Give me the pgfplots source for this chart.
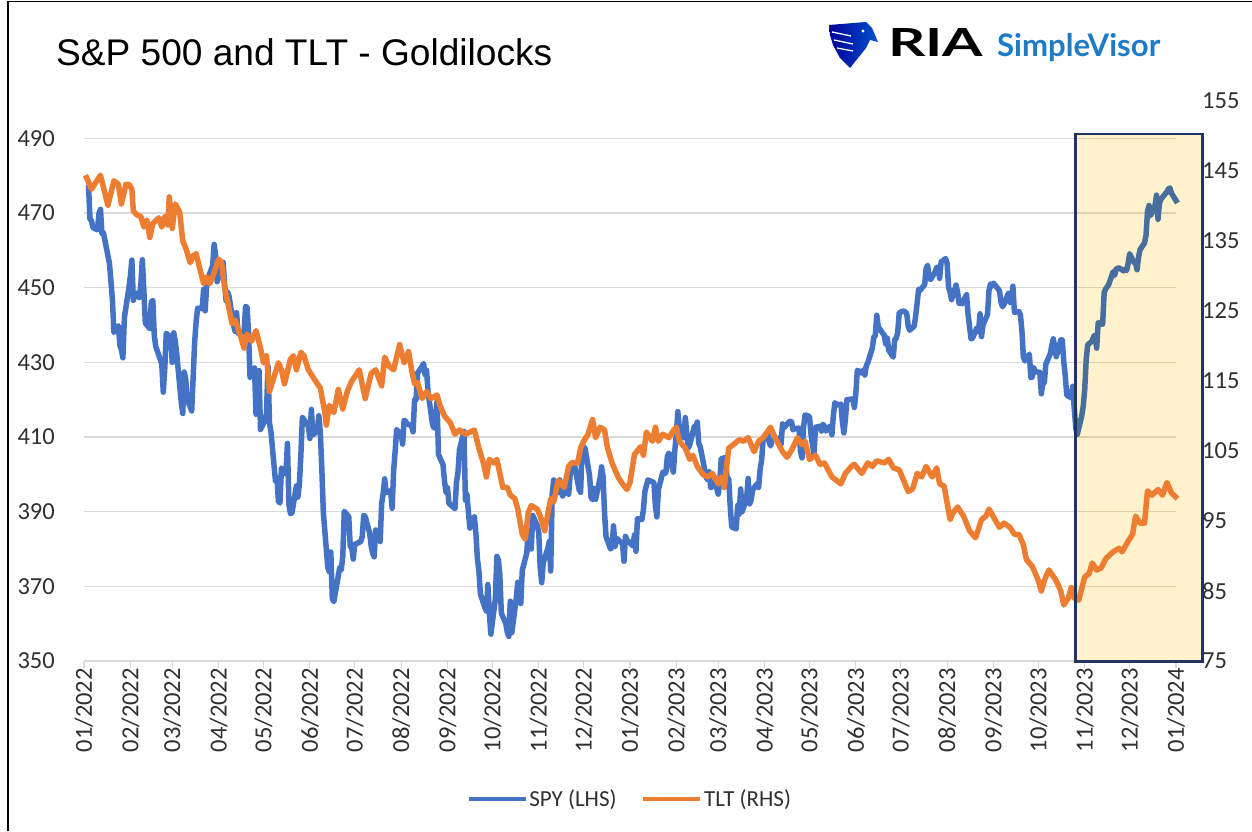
\documentclass[border=0pt]{standalone}
\usepackage{pgfplots}
\pgfplotsset{compat=1.18}
\usepackage{pgfplotstable}
\usepackage{graphicx}
\usepackage{fontspec}
\setmainfont{Liberation Sans}
\newfontfamily\carlito{Carlito}
\newfontfamily\lato{Lato}

\definecolor{spyblue}{HTML}{4472C4}
\definecolor{spyslate}{HTML}{486E9E}
\definecolor{tltorange}{HTML}{ED7D31}
\definecolor{gridgray}{HTML}{D9D9D9}
\definecolor{gridtan}{HTML}{DDD0B0}
\definecolor{boxfill}{HTML}{FFF2CC}
\definecolor{boxedge}{HTML}{1F3461}
\definecolor{ticktext}{HTML}{303030}
\definecolor{logoblue}{HTML}{1E7BC6}

% SPY daily close, x = days since 1 Jan 2022
\pgfplotstableread{
d v
2 477.7
3 477.5
4 468.4
5 467.9
6 466.1
9 465.5
10 469.8
11 471.0
12 464.5
13 464.7
17 456.5
18 451.8
19 446.8
20 438.0
23 439.8
24 434.5
25 433.4
26 431.2
27 442.0
30 449.9
31 453.0
32 457.4
33 446.6
34 448.7
37 447.3
38 450.9
39 457.5
40 449.3
41 440.5
44 439.0
45 446.1
46 446.6
47 437.1
48 434.2
52 429.6
53 422.0
54 428.3
55 437.8
58 436.6
59 430.0
60 437.9
61 435.7
62 432.2
65 419.4
66 416.3
67 427.4
68 425.5
69 420.1
72 417.0
73 426.2
74 435.6
75 441.1
76 444.5
79 444.4
80 449.6
81 443.8
82 450.5
83 452.7
86 455.9
87 461.6
88 458.7
89 451.6
90 452.9
93 456.8
94 451.0
95 446.5
96 448.8
97 447.6
100 439.9
101 438.3
102 443.3
103 437.8
107 438.0
108 445.0
109 444.7
110 438.1
111 426.0
114 428.5
115 416.1
116 417.3
117 427.8
118 412.0
121 414.5
122 416.4
123 429.1
124 413.8
125 411.3
128 398.2
129 399.1
130 392.8
131 392.3
132 401.7
135 400.1
136 408.3
137 391.9
138 389.5
139 389.6
142 396.9
143 393.9
144 397.4
145 405.3
146 415.3
150 412.9
151 409.6
152 417.4
153 410.5
156 411.8
157 415.7
158 411.2
159 401.4
160 389.8
163 375.0
164 373.9
165 379.2
166 366.7
167 365.9
171 375.1
172 374.4
173 378.1
174 390.1
177 388.6
178 380.7
179 380.3
180 377.3
181 381.2
185 382.0
186 383.3
187 389.0
188 388.7
191 384.2
192 380.8
193 378.8
194 377.9
195 385.1
198 382.0
199 392.3
200 394.8
201 398.8
202 395.1
205 395.6
206 390.9
207 401.0
208 406.1
209 412.0
212 410.8
213 408.1
214 414.5
215 414.2
216 413.5
219 413.0
220 411.4
221 420.0
222 420.0
223 427.1
226 428.9
227 429.7
228 426.7
229 427.9
230 422.1
233 413.4
234 412.4
235 413.7
236 419.5
237 405.3
240 402.6
241 398.2
242 395.2
243 396.4
244 392.2
248 390.8
249 397.8
250 400.4
251 406.6
254 411.5
255 393.1
256 394.6
257 389.9
258 385.6
261 388.6
262 384.1
263 377.4
264 374.2
265 368.0
268 364.3
269 363.4
270 370.5
271 362.8
272 357.2
275 366.6
276 378.0
277 377.1
278 373.2
279 362.8
282 360.0
283 357.7
284 356.6
285 366.0
286 357.6
289 366.8
290 371.1
291 368.5
292 365.4
293 374.3
296 378.9
297 384.9
298 382.0
299 380.0
300 389.0
303 386.2
304 384.5
305 374.9
306 371.0
307 376.4
310 380.0
311 382.0
312 374.1
313 394.7
314 398.5
317 395.1
318 398.5
319 395.5
320 394.2
321 396.0
324 394.6
325 399.9
326 402.4
328 402.3
331 395.9
332 395.2
333 407.7
334 407.4
335 406.9
338 399.6
339 393.8
340 393.2
341 396.2
342 393.3
345 399.0
346 402.0
347 399.4
348 389.6
349 383.3
352 380.0
353 380.5
354 386.2
355 380.7
356 382.9
360 381.4
361 376.7
362 383.4
363 382.4
367 380.8
368 383.8
369 379.4
370 388.1
373 387.9
374 390.6
375 395.5
376 397.0
377 398.5
381 397.8
382 391.5
383 388.6
384 395.9
387 400.6
388 400.2
389 400.4
390 404.8
391 405.7
394 400.6
395 406.5
396 410.8
397 416.8
398 412.4
401 409.8
402 415.2
403 410.7
404 407.1
405 408.0
408 412.8
409 412.6
410 414.0
411 408.3
412 407.3
416 399.1
417 398.5
418 400.7
419 396.4
422 397.7
423 396.3
424 394.7
425 397.8
426 404.2
429 404.5
430 398.3
431 398.9
432 391.6
433 385.9
436 385.4
437 391.7
438 389.3
439 396.1
440 390.0
443 393.7
444 398.9
445 392.1
446 393.2
447 395.8
450 397.5
451 396.5
452 401.4
453 403.7
454 409.4
457 411.0
458 408.7
459 407.6
460 409.2
464 409.6
465 409.7
466 408.1
467 413.5
468 412.5
471 413.9
472 414.2
473 414.1
474 411.9
475 412.2
478 412.4
479 406.1
480 404.4
481 412.4
482 415.9
485 415.5
486 410.8
487 408.0
488 405.1
489 412.6
492 412.9
493 411.6
494 413.4
495 412.9
496 411.6
499 413.0
500 410.6
501 415.9
502 419.2
503 418.6
506 418.8
507 414.1
508 411.1
509 414.7
510 420.0
514 420.2
515 417.9
516 421.8
517 427.9
520 427.1
521 428.0
522 426.6
523 429.1
524 429.9
527 433.8
528 436.7
529 437.2
530 442.6
531 439.5
535 437.2
536 434.9
537 436.5
538 433.2
541 431.4
542 436.2
543 436.4
544 438.1
545 443.3
548 443.8
550 443.1
551 439.7
552 438.6
555 439.7
556 442.5
557 446.0
558 449.6
559 449.3
562 450.8
563 455.2
564 456.0
565 452.5
566 452.2
569 454.2
570 455.4
571 455.5
572 452.5
573 456.9
576 457.8
577 456.5
578 450.1
579 448.8
580 446.8
583 450.7
584 448.8
585 445.8
586 445.9
587 445.7
590 448.1
591 442.9
592 439.6
593 436.3
594 436.5
597 439.3
598 438.2
599 443.0
600 436.9
601 440.0
604 442.8
605 449.2
606 451.0
607 450.4
608 451.2
612 449.2
613 446.2
614 444.9
615 445.5
618 448.5
619 446.0
620 446.5
621 450.4
622 443.4
625 443.6
626 442.7
627 438.6
628 431.4
629 430.4
632 432.2
633 425.9
634 426.1
635 428.5
636 427.5
639 427.3
640 421.6
641 424.7
642 424.5
643 429.5
646 432.3
647 434.5
648 436.3
649 433.7
650 431.5
653 436.0
654 436.0
655 430.2
656 426.4
657 421.2
660 420.5
661 423.6
662 417.6
663 412.6
664 410.7
667 415.6
668 418.2
669 422.7
670 430.8
671 434.7
674 435.7
675 436.9
676 437.3
677 433.8
678 440.6
681 440.2
682 448.7
683 449.7
684 450.2
685 450.8
688 454.3
689 453.3
690 455.0
692 455.3
695 454.5
696 454.9
697 454.6
698 456.4
699 459.1
702 456.7
703 456.6
704 454.8
705 458.2
706 460.2
709 462.0
710 464.1
711 470.5
712 472.0
713 469.3
716 472.0
717 474.8
718 468.3
719 472.7
720 473.7
724 475.7
725 476.5
726 476.7
727 475.3
731 472.7
}\spydata

% TLT close, x = days since 1 Jan 2022
\pgfplotstableread{
d v
1 144.4
5 142.4
11 144.4
16 140.1
20 143.6
23 143.1
25 140.3
28 143.1
30 143.1
32 142.4
33 139.3
35 138.8
38 138.5
40 137.0
42 138.0
44 135.5
46 137.5
50 138.3
52 137.0
54 138.5
56 137.3
57 141.3
59 136.8
61 140.3
64 139.1
66 135.0
68 134.0
71 131.9
73 132.9
75 133.2
77 131.4
80 128.9
82 129.9
84 128.9
86 129.9
90 132.4
92 131.9
94 128.3
97 125.3
99 123.2
101 123.7
105 121.2
107 119.7
109 121.7
112 120.7
115 122.2
118 119.7
120 117.6
122 118.6
124 113.5
127 115.6
130 117.6
132 116.6
134 114.6
138 118.1
140 118.6
142 116.6
145 119.1
147 118.6
150 116.6
153 115.6
156 114.6
158 114.0
161 110.5
162 108.7
164 111.5
167 110.5
170 113.8
173 111.0
176 113.5
179 115.0
181 115.6
184 116.6
188 112.5
192 116.1
195 116.6
199 114.3
201 118.4
204 117.1
207 116.6
211 120.2
214 117.6
217 119.2
219 116.6
221 114.6
223 114.8
226 112.5
229 113.5
232 112.5
236 113.0
238 111.5
241 110.0
245 109.0
248 107.4
251 108.0
255 107.4
258 107.7
261 108.0
264 105.4
267 103.3
269 101.3
271 103.8
274 103.3
276 103.8
278 101.8
280 99.8
283 99.8
285 98.7
288 98.2
290 96.7
293 93.1
295 92.4
297 96.2
299 97.2
303 96.7
305 95.7
308 93.6
312 98.2
314 97.7
317 100.8
321 99.8
324 102.8
326 103.3
330 103.3
332 105.4
334 106.4
337 107.4
340 109.5
342 106.9
345 108.4
348 108.0
350 105.4
353 103.3
357 101.3
360 100.3
363 99.5
365 100.5
368 104.5
372 105.6
374 104.4
376 107.7
380 106.4
382 108.4
384 106.4
387 107.4
391 106.9
394 107.9
396 108.4
398 106.4
402 105.4
405 103.8
407 104.4
410 102.8
414 101.6
417 101.3
420 101.8
424 100.3
426 101.3
428 99.8
431 105.4
434 105.9
438 106.6
441 106.4
444 106.9
448 104.9
451 106.4
454 106.9
459 108.4
462 106.9
467 104.9
470 104.1
473 105.1
477 106.9
480 105.9
482 106.4
485 103.8
489 104.4
492 103.1
495 103.3
500 101.3
503 100.8
506 100.3
509 101.8
513 102.8
515 103.1
518 102.3
520 101.8
524 103.3
527 102.8
530 103.6
535 103.3
538 103.8
541 102.6
545 102.3
548 100.8
551 99.2
554 99.6
557 101.8
560 101.3
563 102.8
567 101.3
570 102.6
572 100.3
575 100.0
579 95.2
581 96.2
584 97.0
588 95.7
592 93.6
596 92.6
600 95.2
603 95.7
605 96.7
609 95.2
612 94.1
615 94.7
619 94.1
622 93.1
625 93.1
628 91.6
630 89.5
634 88.5
638 86.5
640 85.0
642 86.5
645 88.0
649 86.8
651 86.0
653 85.0
655 83.0
658 84.0
660 85.5
662 84.0
665 83.7
669 87.0
672 87.5
674 89.0
677 88.0
680 88.3
683 89.6
688 90.6
692 91.1
694 90.6
698 92.1
701 93.1
703 95.7
706 94.7
709 94.7
711 99.3
714 98.7
718 99.5
721 98.7
724 100.5
727 99.0
731 98.2
}\tltdata

\begin{document}
\begin{tikzpicture}[x=1pt,y=1pt]
\useasboundingbox (0,0) rectangle (1252,831);
\fill[white] (0,0) rectangle (1252,831);
\draw[black, line width=1.5pt] (8,0) -- (8,829.5) -- (1252,829.5);

% title
\node[anchor=base west, inner sep=0pt] at (56,765)
  {\resizebox{496pt}{!}{\fontsize{36}{40}\selectfont S\&P 500 and TLT - Goldilocks}};

% logo
\shade[left color=blue!60!black, right color=blue!60!cyan!80!black]
  (829,806) -- (866,809) -- (872,803) -- (878,789) -- (870,791) -- (866,783)
  -- (858,773) -- (850,763) -- (840,773) -- (833,786) -- (830,796) -- cycle;
\draw[white, line width=1.3pt] (832,799) -- (851,795);
\draw[white, line width=1.3pt] (834,791) -- (853,787);
\draw[white, line width=1.3pt] (837,783) -- (853,780);
\fill[white] (863,800) circle (1.6);
\node[anchor=base west, inner sep=0pt] at (888,774)
  {\resizebox{95pt}{28pt}{\lato\bfseries RIA}};
\node[anchor=base west, inner sep=0pt, text=logoblue] at (997,774)
  {\resizebox{163pt}{!}{\lato\bfseries SimpleVisor}};

% SPY axis (left)
\begin{axis}[
  at={(84pt,170pt)}, anchor=south west,
  scale only axis, width=1092pt, height=560pt,
  xmin=0, xmax=730, ymin=350, ymax=500,
  clip=false,
  axis x line*=bottom, axis y line*=left,
  x axis line style={draw=gridgray, line width=1.5pt, -},
  y axis line style={draw=none},
  ymajorgrids, grid style={draw=gridgray, line width=1.5pt},
  xtick={0,31,59,90,120,151,181,212,243,273,304,334,365,396,424,455,485,516,546,577,608,638,669,699,730},
  xticklabels={01/2022,02/2022,03/2022,04/2022,05/2022,06/2022,07/2022,08/2022,09/2022,10/2022,11/2022,12/2022,
               01/2023,02/2023,03/2023,04/2023,05/2023,06/2023,07/2023,08/2023,09/2023,10/2023,11/2023,12/2023,01/2024},
  ytick={350,370,...,490},
  yticklabels={350,370,390,410,430,450,470,490},
  tick align=outside, major tick length=7pt,
  xtick style={draw=gridgray, line width=1.2pt},
  ytick style={draw=none},
  xticklabel style={rotate=90, anchor=east, inner sep=0pt, text=ticktext,
                    font=\carlito\fontsize{24.5}{26}\selectfont},
  yticklabel style={anchor=east, inner sep=0pt, xshift=-22pt, text=ticktext,
                    font=\carlito\fontsize{24.5}{26}\selectfont},
]
\fill[boxfill] (axis cs:663,349.8) rectangle (axis cs:748,491.2);
\pgfplotsinvokeforeach{370,390,...,490}{
  \draw[gridtan, line width=1.5pt] (axis cs:663,#1) -- (axis cs:730,#1);
}
\addplot[spyblue, line width=5.5pt, line join=round, restrict x to domain=0:664]
  table[x=d, y=v] {\spydata};
\addplot[spyslate, line width=5.5pt, line join=round, restrict x to domain=663:740]
  table[x=d, y=v] {\spydata};
\end{axis}

% TLT axis (right)
\begin{axis}[
  at={(84pt,170pt)}, anchor=south west,
  scale only axis, width=1092pt, height=560pt,
  xmin=0, xmax=730, ymin=75, ymax=155,
  clip=false,
  axis x line=none, axis y line*=right,
  y axis line style={draw=none},
  ytick={75,85,...,155},
  yticklabels={75,85,95,105,115,125,135,145,155},
  ytick style={draw=none},
  yticklabel style={anchor=west, inner sep=0pt, xshift=26pt, text=ticktext,
                    font=\carlito\fontsize{24.5}{26}\selectfont},
  legend columns=2,
  legend cell align=left,
  legend image code/.code={\draw[#1] (0pt,0pt) -- (57pt,0pt);},
  legend style={at={(0.3500,-0.2464)}, anchor=west, draw=none, fill=none,
                inner sep=0pt, nodes={inner sep=1.5pt, text=ticktext},
                font=\carlito\fontsize{23}{25}\selectfont},
]
\addlegendimage{spyblue, line width=4.5pt}
\addlegendentry{SPY (LHS)\rule{23pt}{0pt}}
\addplot[tltorange, line width=5.5pt, line join=round, forget plot] table[x=d, y=v] {\tltdata};
\addlegendimage{tltorange, line width=4.5pt}
\addlegendentry{TLT (RHS)}
\draw[boxedge, line width=2.8pt] (axis cs:663,74.9) rectangle (axis cs:748,150.3);
\end{axis}
\end{tikzpicture}
\end{document}
